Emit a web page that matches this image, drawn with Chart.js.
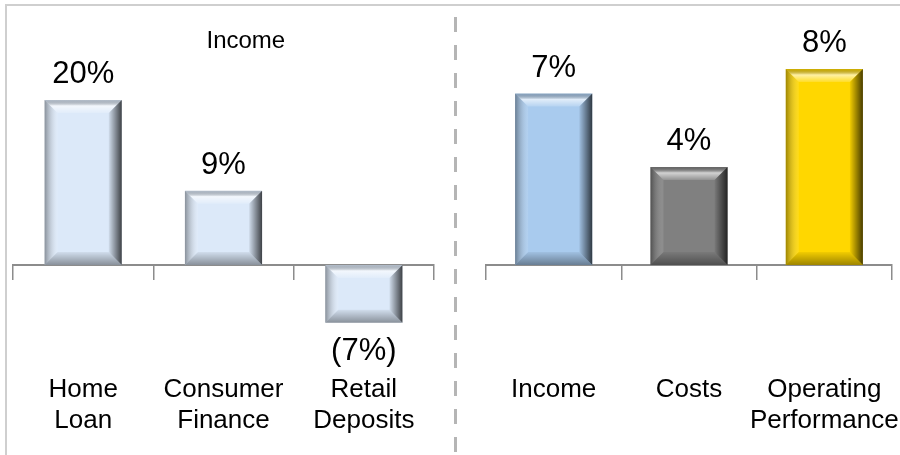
<!DOCTYPE html>
<html>
<head>
<meta charset="utf-8">
<script src="https://cdn.jsdelivr.net/npm/chart.js@4.4.1/dist/chart.umd.min.js"></script>
<style>
  html, body { margin: 0; padding: 0; background: #fff; }
  #wrap { position: relative; width: 900px; height: 455px; overflow: hidden; }
  #frameTop { position: absolute; left: 5px; top: 4px; width: 895px; height: 2px; background: #cfcfcf; }
  #frameLeft { position: absolute; left: 5px; top: 4px; width: 2px; height: 451px; background: #cfcfcf; }
  #divider { position: absolute; left: 454px; top: 17px; width: 3px; height: 438px;
    background: repeating-linear-gradient(to bottom, #b5b5b5 0 15px, transparent 15px 28px); }
  canvas { position: absolute; top: 0; }
  #leftChart { left: 0; }
  #rightChart { left: 460px; }
</style>
</head>
<body>
<div id="wrap">
  <div id="frameTop"></div>
  <div id="frameLeft"></div>
  <div id="divider"></div>
  <canvas id="leftChart" width="450" height="455"></canvas>
  <canvas id="rightChart" width="440" height="455"></canvas>
</div>
<script>
// data
const leftTitle = "Income";
const leftLabels = [["Home", "Loan"], ["Consumer", "Finance"], ["Retail", "Deposits"]];
const leftValues = [20, 9, -7];
const leftColors = ["#dce9f9", "#dce9f9", "#dce9f9"];

const rightLabels = ["Income", "Costs", ["Operating", "Performance"]];
const rightValues = [7, 4, 8];
const rightColors = ["#a9cbee", "#808080", "#ffd700"];

const FONT = "'Liberation Sans', Arial, sans-serif";

function pctText(v) {
  return v < 0 ? "(" + Math.abs(v) + "%)" : v + "%";
}

// bevel look on every bar, drawn from the bar elements
const bevelPlugin = {
  id: "bevel",
  afterDatasetsDraw(chart) {
    const ctx = chart.ctx;
    chart.getDatasetMeta(0).data.forEach(bar => {
      const p = bar.getProps(["x", "y", "base", "width"], true);
      const l = p.x - p.width / 2, r = p.x + p.width / 2;
      const t = Math.min(p.y, p.base), b = Math.max(p.y, p.base);
      const s = Math.min(13, (b - t) / 2, p.width / 2);
      ctx.save();
      // top
      let g = ctx.createLinearGradient(0, t, 0, t + s);
      g.addColorStop(0, "rgba(0,0,0,0.18)");
      g.addColorStop(0.45, "rgba(255,255,255,0.65)");
      g.addColorStop(1, "rgba(255,255,255,0.15)");
      ctx.fillStyle = g;
      ctx.beginPath();
      ctx.moveTo(l, t); ctx.lineTo(r, t); ctx.lineTo(r - s, t + s); ctx.lineTo(l + s, t + s);
      ctx.closePath(); ctx.fill();
      // left
      g = ctx.createLinearGradient(l, 0, l + s, 0);
      g.addColorStop(0, "rgba(0,0,0,0.38)");
      g.addColorStop(1, "rgba(255,255,255,0.1)");
      ctx.fillStyle = g;
      ctx.beginPath();
      ctx.moveTo(l, t); ctx.lineTo(l + s, t + s); ctx.lineTo(l + s, b - s); ctx.lineTo(l, b);
      ctx.closePath(); ctx.fill();
      // right
      g = ctx.createLinearGradient(r - s, 0, r, 0);
      g.addColorStop(0, "rgba(0,0,0,0.05)");
      g.addColorStop(1, "rgba(0,0,0,0.72)");
      ctx.fillStyle = g;
      ctx.beginPath();
      ctx.moveTo(r, t); ctx.lineTo(r, b); ctx.lineTo(r - s, b - s); ctx.lineTo(r - s, t + s);
      ctx.closePath(); ctx.fill();
      // bottom
      g = ctx.createLinearGradient(0, b - s, 0, b);
      g.addColorStop(0, "rgba(0,0,0,0.05)");
      g.addColorStop(1, "rgba(0,0,0,0.38)");
      ctx.fillStyle = g;
      ctx.beginPath();
      ctx.moveTo(l, b); ctx.lineTo(l + s, b - s); ctx.lineTo(r - s, b - s); ctx.lineTo(r, b);
      ctx.closePath(); ctx.fill();
      ctx.restore();
    });
  }
};

// value labels above / below bars
const valueLabels = {
  id: "valueLabels",
  afterDraw(chart) {
    const ctx = chart.ctx;
    const values = chart.data.datasets[0].data;
    ctx.save();
    ctx.font = "31px " + FONT;
    ctx.fillStyle = "#000";
    ctx.textAlign = "center";
    ctx.textBaseline = "alphabetic";
    chart.getDatasetMeta(0).data.forEach((bar, i) => {
      const v = values[i];
      if (v >= 0) ctx.fillText(pctText(v), bar.x, bar.y - 17);
      else ctx.fillText(pctText(v), bar.x, bar.y + 37);
    });
    ctx.restore();
  }
};

// panel title, placed relative to the chart area
const panelTitle = {
  id: "panelTitle",
  afterDraw(chart, args, opts) {
    if (!opts.text) return;
    const ctx = chart.ctx, a = chart.chartArea;
    ctx.save();
    ctx.font = "24px " + FONT;
    ctx.fillStyle = "#000";
    ctx.textAlign = "center";
    ctx.fillText(opts.text, a.left + a.width * opts.xFrac, opts.y);
    ctx.restore();
  }
};

function makeChart(id, labels, values, colors, yMin, yMax, barPct, pad, title) {
  return new Chart(document.getElementById(id), {
    type: "bar",
    data: {
      labels: labels,
      datasets: [{
        data: values,
        backgroundColor: colors,
        borderWidth: 0,
        barPercentage: barPct,
        categoryPercentage: 1
      }]
    },
    options: {
      responsive: false,
      animation: false,
      devicePixelRatio: 1,
      layout: { padding: pad },
      plugins: {
        legend: { display: false },
        tooltip: { enabled: false },
        panelTitle: title || {}
      },
      scales: {
        x: {
          position: { y: 0 },
          grid: { display: true, drawOnChartArea: false, drawTicks: true, tickLength: 14, color: "#8c8c8c", lineWidth: 1.5, offset: true },
          border: { display: true, color: "#8c8c8c", width: 2 },
          ticks: { color: "#000", font: { size: 26, family: FONT }, padding: 95, maxRotation: 0, autoSkip: false },
          // the big label gap should not eat into the width
          afterFit(scale) { scale.paddingLeft = 0; scale.paddingRight = 0; }
        },
        y: { display: false, min: yMin, max: yMax }
      }
    },
    plugins: [bevelPlugin, valueLabels, panelTitle]
  });
}

makeChart("leftChart", leftLabels, leftValues, leftColors, -23.03, 32.12, 0.55,
  { left: 13, right: 16, top: 0, bottom: 0 }, { text: leftTitle, xFrac: 0.553, y: 48 });
makeChart("rightChart", rightLabels, rightValues, rightColors, -7.76, 10.82, 0.57,
  { left: 26, right: 8, top: 0, bottom: 0 });
</script>
</body>
</html>
